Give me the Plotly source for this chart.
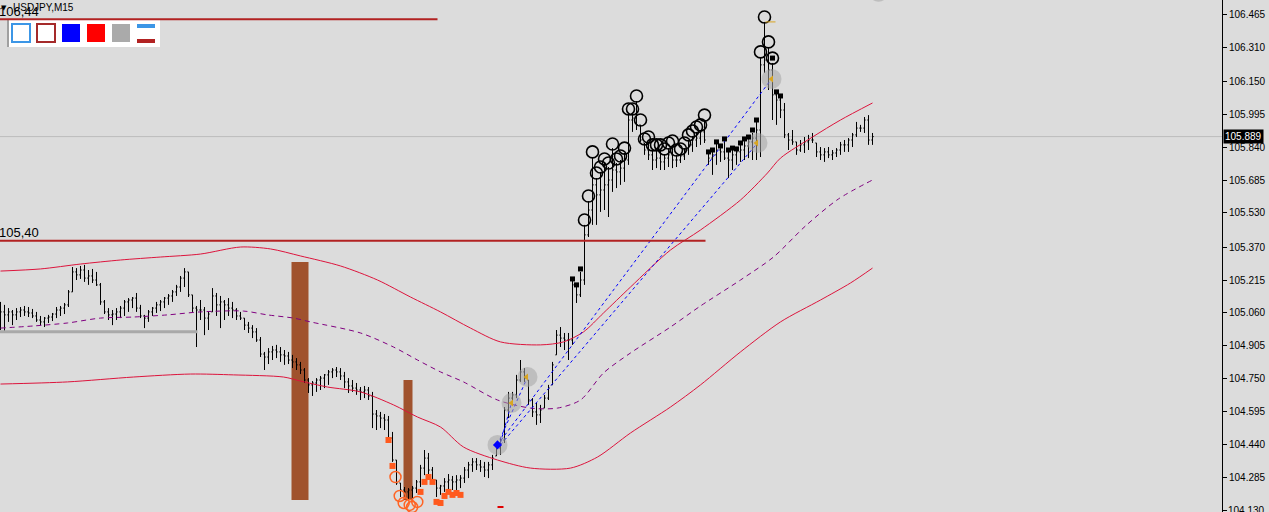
import plotly.graph_objects as go

# ---------------- data (USDJPY M15 bars) ----------------
bar_index = list(range(219))

bar_open = [105.036,105.065,105.051,105.065,105.051,105.065,105.074,105.065,105.060,105.046,
105.027,105.018,105.036,105.041,105.055,105.074,105.083,105.098,105.159,105.253,
105.239,105.262,105.224,105.234,105.215,105.192,105.112,105.065,105.051,105.055,
105.065,105.083,105.112,105.121,105.130,105.083,105.046,105.036,105.065,105.083,
105.098,105.112,105.130,105.140,105.159,105.182,105.224,105.253,105.145,105.083,
105.074,105.074,105.036,105.065,105.140,105.098,105.112,105.098,105.083,105.074,
105.046,105.036,105.003,104.989,104.971,104.933,104.867,104.853,104.877,104.886,
104.877,104.863,104.858,104.839,104.830,104.816,104.792,104.745,104.722,104.731,
104.745,104.754,104.769,104.783,104.792,104.783,104.764,104.736,104.717,104.707,
104.698,104.689,104.698,104.670,104.585,104.576,104.566,104.557,104.472,104.369,
104.261,104.228,104.219,104.228,104.237,104.266,104.331,104.378,104.322,104.275,
104.237,104.247,104.266,104.275,104.266,104.275,104.284,104.322,104.346,104.360,
104.346,104.336,104.322,104.346,104.388,104.425,104.463,104.604,104.660,104.675,
104.745,104.783,104.745,104.651,104.595,104.581,104.613,104.660,104.722,104.863,
104.956,104.942,104.933,104.933,105.192,105.145,105.215,105.427,105.544,105.662,
105.615,105.638,105.662,105.685,105.732,105.723,105.741,105.779,105.967,105.976,
105.944,105.859,105.826,105.803,105.779,105.788,105.770,105.788,105.803,105.779,
105.779,105.798,105.826,105.850,105.873,105.882,105.911,105.812,105.788,105.803,
105.826,105.817,105.788,105.779,105.803,105.817,105.826,105.845,105.864,105.882,
105.920,106.226,106.249,106.202,106.085,106.061,106.014,105.897,105.873,105.864,
105.826,105.850,105.864,105.873,105.859,105.817,105.803,105.817,105.803,105.812,
105.826,105.850,105.850,105.873,105.897,105.929,105.929,105.967,105.873]

bar_high = [105.112,105.098,105.083,105.074,105.083,105.088,105.093,105.088,105.079,105.065,
105.046,105.041,105.051,105.060,105.088,105.093,105.107,105.168,105.276,105.271,
105.281,105.286,105.262,105.267,105.253,105.201,105.121,105.083,105.074,105.083,
105.093,105.121,105.130,105.135,105.154,105.098,105.051,105.074,105.088,105.112,
105.121,105.135,105.149,105.168,105.192,105.234,105.271,105.253,105.145,105.093,
105.121,105.088,105.065,105.177,105.154,105.140,105.121,105.130,105.112,105.083,
105.065,105.036,105.018,105.003,104.989,104.947,104.877,104.895,104.905,104.910,
104.900,104.886,104.877,104.863,104.848,104.830,104.801,104.754,104.740,104.754,
104.764,104.773,104.792,104.801,104.806,104.801,104.783,104.754,104.745,104.731,
104.712,104.717,104.712,104.689,104.604,104.595,104.585,104.576,104.501,104.369,
104.261,104.242,104.237,104.247,104.275,104.346,104.416,104.402,104.336,104.275,
104.252,104.284,104.303,104.294,104.298,104.298,104.336,104.360,104.378,104.378,
104.369,104.360,104.360,104.393,104.435,104.472,104.618,104.689,104.689,104.769,
104.839,104.801,104.745,104.660,104.637,104.628,104.675,104.722,104.830,104.980,
104.994,104.966,104.966,105.224,105.192,105.253,105.474,105.586,105.793,105.694,
105.723,105.765,105.746,105.835,105.765,105.779,105.812,105.995,105.995,106.056,
105.944,105.859,105.864,105.826,105.826,105.826,105.807,105.835,105.845,105.803,
105.807,105.835,105.873,105.892,105.911,105.920,105.967,105.812,105.826,105.859,
105.835,105.873,105.817,105.835,105.826,105.850,105.868,105.882,105.906,105.958,
106.263,106.428,106.310,106.235,106.099,106.075,106.047,105.906,105.920,105.864,
105.873,105.887,105.897,105.906,105.859,105.840,105.835,105.840,105.826,105.835,
105.864,105.873,105.882,105.906,105.958,105.944,105.981,105.990,105.906]

bar_low = [104.980,104.971,105.018,105.003,105.027,105.041,105.046,105.041,105.036,105.018,
105.003,104.994,105.013,105.022,105.036,105.046,105.055,105.088,105.159,105.215,
105.220,105.206,105.192,105.201,105.187,105.098,105.055,105.027,105.003,105.027,
105.036,105.046,105.065,105.083,105.065,105.036,104.989,105.018,105.046,105.060,
105.069,105.083,105.098,105.112,105.140,105.159,105.182,105.135,105.065,104.900,
105.027,104.956,104.980,105.065,105.046,104.989,105.027,105.046,105.036,105.027,
105.027,104.980,104.966,104.942,104.924,104.853,104.792,104.820,104.839,104.848,
104.830,104.816,104.820,104.801,104.792,104.773,104.731,104.684,104.670,104.689,
104.698,104.707,104.722,104.754,104.759,104.745,104.707,104.684,104.689,104.675,
104.651,104.660,104.651,104.519,104.510,104.519,104.510,104.454,104.360,104.252,
104.195,104.181,104.181,104.190,104.214,104.242,104.298,104.289,104.261,104.195,
104.205,104.219,104.228,104.228,104.228,104.237,104.261,104.284,104.313,104.322,
104.313,104.289,104.284,104.322,104.388,104.393,104.449,104.566,104.623,104.660,
104.736,104.736,104.628,104.571,104.534,104.543,104.613,104.651,104.722,104.863,
104.900,104.886,104.839,104.910,105.107,105.135,105.192,105.417,105.474,105.474,
105.535,105.544,105.511,105.629,105.647,105.662,105.676,105.756,105.911,105.920,
105.864,105.803,105.779,105.732,105.741,105.732,105.732,105.746,105.741,105.746,
105.765,105.779,105.803,105.817,105.840,105.850,105.859,105.756,105.709,105.756,
105.770,105.779,105.694,105.732,105.756,105.770,105.779,105.788,105.779,105.779,
105.793,106.188,106.108,105.967,105.944,105.976,105.882,105.826,105.850,105.803,
105.817,105.812,105.826,105.859,105.793,105.779,105.770,105.788,105.779,105.793,
105.803,105.817,105.817,105.840,105.887,105.911,105.906,105.850,105.850]

bar_close = [105.065,105.051,105.065,105.051,105.065,105.074,105.065,105.060,105.046,105.027,
105.018,105.036,105.041,105.055,105.074,105.083,105.098,105.159,105.253,105.239,
105.262,105.224,105.234,105.215,105.192,105.112,105.065,105.051,105.055,105.065,
105.083,105.112,105.121,105.130,105.083,105.046,105.036,105.065,105.083,105.098,
105.112,105.130,105.140,105.159,105.182,105.224,105.253,105.145,105.083,105.074,
105.074,105.036,105.055,105.140,105.098,105.112,105.098,105.083,105.074,105.046,
105.036,105.003,104.989,104.971,104.933,104.867,104.853,104.877,104.886,104.877,
104.863,104.858,104.839,104.830,104.816,104.792,104.745,104.722,104.731,104.745,
104.754,104.769,104.783,104.792,104.783,104.764,104.736,104.717,104.707,104.698,
104.689,104.698,104.670,104.585,104.576,104.566,104.557,104.472,104.369,104.261,
104.228,104.219,104.228,104.237,104.266,104.331,104.378,104.322,104.275,104.237,
104.247,104.266,104.275,104.266,104.275,104.284,104.322,104.346,104.360,104.346,
104.336,104.322,104.346,104.378,104.425,104.463,104.604,104.660,104.675,104.745,
104.783,104.754,104.651,104.595,104.581,104.604,104.660,104.707,104.816,104.956,
104.942,104.933,104.933,105.192,105.145,105.215,105.427,105.544,105.662,105.615,
105.638,105.662,105.685,105.732,105.723,105.741,105.779,105.967,105.976,105.944,
105.873,105.826,105.803,105.779,105.788,105.770,105.788,105.803,105.779,105.779,
105.798,105.826,105.850,105.873,105.882,105.911,105.873,105.788,105.803,105.826,
105.817,105.788,105.779,105.803,105.817,105.826,105.845,105.864,105.882,105.920,
106.226,106.249,106.202,106.085,106.061,106.014,105.897,105.873,105.864,105.826,
105.850,105.864,105.873,105.873,105.817,105.803,105.817,105.803,105.812,105.826,
105.850,105.850,105.873,105.897,105.929,105.929,105.967,105.873,105.889]

# envelope / band indicator
upper_x = [0,10,20,30,40,50,60,67.5,75,85,94.25,102.5,110,117.5,125,135,140.75,145.75,150.75,157.5,167.5,175,185,191.75,195,203,210,218]
upper_y = [105.257,105.267,105.290,105.309,105.323,105.337,105.370,105.361,105.328,105.281,105.215,105.135,105.065,104.989,104.924,104.910,104.924,104.971,105.060,105.182,105.356,105.450,105.591,105.718,105.788,105.887,105.967,106.047]
middle_x = [0,8.25,16.75,25,33.25,41.75,50,60.75,66.75,73.25,77.5,90,98.25,104.25,110,115.75,124.25,132.5,139.25,145,150.75,157.5,167.5,175,185,193.25,201.25,209.5,218]
middle_y = [104.989,104.999,105.013,105.036,105.041,105.051,105.065,105.069,105.051,105.036,105.018,104.966,104.900,104.839,104.783,104.736,104.651,104.613,104.613,104.651,104.778,104.872,104.994,105.093,105.215,105.323,105.469,105.596,105.685]
lower_x = [0,16.75,33.25,47.5,58.25,70.75,75,81.75,90,98.25,104.25,110,115.75,124.25,132.5,142.5,149.25,157.5,167.5,175,185,195,205,212.5,218]
lower_y = [104.726,104.736,104.759,104.773,104.769,104.759,104.740,104.712,104.689,104.628,104.571,104.524,104.430,104.369,104.331,104.331,104.383,104.496,104.618,104.722,104.877,105.018,105.121,105.201,105.271]

# signal markers
circle_x = list(range(146, 177)) + [190, 191, 192, 193]
circle_y = [105.497,105.610,105.817,105.718,105.746,105.784,105.765,105.854,105.784,105.798,105.835,
            106.019,106.019,106.080,105.967,105.878,105.887,105.850,105.850,105.850,105.831,105.859,
            105.868,105.826,105.831,105.859,105.897,105.915,105.934,105.944,105.990,
            106.287,106.451,106.334,106.258]
square_x = [143, 144, 145] + list(range(177, 190)) + [193, 194, 195]
square_y = [105.220,105.192,105.267,
            105.817,105.826,105.864,105.845,105.878,105.826,105.835,105.831,105.859,105.878,105.887,105.920,105.967,
            106.258,106.099,106.080]
osq_x = [97, 98, 105, 106, 107, 108, 109, 110, 111, 112, 113, 114, 115]
osq_y = [104.463,104.341,104.219,104.266,104.289,104.266,104.172,104.167,104.200,104.219,104.205,104.214,104.205]
ocirc_x = [98.75, 99.8, 100.8, 102.3, 102.9, 104.2]
ocirc_y = [104.289,104.200,104.167,104.158,104.148,104.172]
gray_x = [124.25, 127.75, 131.75, 189.25, 192.75, 219.5]
gray_y = [104.440, 104.637, 104.759, 105.859, 106.160, 106.570]
gold_x = [127.75, 131.5, 192.75, 189.0]
gold_y = [104.637, 104.759, 106.160, 105.859]
arrow_x = [124.25]
arrow_y = [104.440]

# trend lines (start index, start price, end index, end price)
trend_lines = [(124.25, 104.440, 192.75, 106.160),
               (125.0, 104.440, 189.25, 105.859),
               (124.25, 104.440, 131.75, 104.759),
               (125.0, 104.450, 127.75, 104.637)]

level_hi = 106.44
level_lo = 105.40
support_grey = 104.972
last_price = 105.889

tick_vals = [106.465,106.310,106.150,105.995,105.840,105.685,105.530,105.370,105.215,105.060,
             104.905,104.750,104.595,104.440,104.285,104.130]

# ---------------- figure ----------------
PW, PH = 1222, 512          # plot-area size in pixels
def pxx(x): return x / PW
def pxy(y): return 1 - y / PH

fig = go.Figure()

fig.add_trace(go.Ohlc(x=bar_index, open=bar_open, high=bar_high, low=bar_low, close=bar_close,
                      increasing=dict(line=dict(color='black', width=1)),
                      decreasing=dict(line=dict(color='black', width=1)),
                      tickwidth=0.3, hoverinfo='skip', showlegend=False))

fig.add_trace(go.Scatter(x=upper_x, y=upper_y, mode='lines', line=dict(color='#dc143c', width=1, shape='spline', smoothing=0.8), hoverinfo='skip'))
fig.add_trace(go.Scatter(x=lower_x, y=lower_y, mode='lines', line=dict(color='#dc143c', width=1, shape='spline', smoothing=0.8), hoverinfo='skip'))
fig.add_trace(go.Scatter(x=middle_x, y=middle_y, mode='lines', line=dict(color='#800080', width=1, dash='5px,4px', shape='spline', smoothing=0.8), hoverinfo='skip'))

for (x0, y0, x1, y1) in trend_lines:
    fig.add_trace(go.Scatter(x=[x0, x1], y=[y0, y1], mode='lines',
                             line=dict(color='#0000ff', width=1, dash='3px,3px'), hoverinfo='skip'))

fig.add_trace(go.Scatter(x=gray_x, y=gray_y, mode='markers', cliponaxis=True,
                         marker=dict(symbol='circle', size=20, color='rgba(165,165,165,0.55)'), hoverinfo='skip'))
fig.add_trace(go.Scatter(x=circle_x, y=circle_y, mode='markers',
                         marker=dict(symbol='circle-open', size=12, color='black', line=dict(width=1.6)), hoverinfo='skip'))
fig.add_trace(go.Scatter(x=square_x, y=square_y, mode='markers',
                         marker=dict(symbol='square', size=5, color='black'), hoverinfo='skip'))
fig.add_trace(go.Scatter(x=osq_x, y=osq_y, mode='markers',
                         marker=dict(symbol='square', size=6, color='#ff5a1e'), hoverinfo='skip'))
fig.add_trace(go.Scatter(x=ocirc_x, y=ocirc_y, mode='markers',
                         marker=dict(symbol='circle-open', size=11, color='#ff6424', line=dict(width=1.5)), hoverinfo='skip'))
fig.add_trace(go.Scatter(x=gold_x, y=gold_y, mode='markers',
                         marker=dict(symbol='triangle-left', size=6, color='#d9a521'), hoverinfo='skip'))
fig.add_trace(go.Scatter(x=arrow_x, y=arrow_y, mode='markers',
                         marker=dict(symbol='diamond', size=7, color='#0000ff'), hoverinfo='skip'))

shapes = []
# brown rectangles
shapes.append(dict(type='rect', xref='x', yref='y', x0=72.75, x1=77.0, y0=104.181, y1=105.300,
                   fillcolor='#a0522d', line=dict(width=0), layer='below'))
shapes.append(dict(type='rect', xref='x', yref='y', x0=100.75, x1=103.0, y0=104.181, y1=104.745,
                   fillcolor='#a0522d', line=dict(width=0), layer='below'))
# current price line
shapes.append(dict(type='line', xref='paper', yref='y', x0=0, x1=1, y0=last_price, y1=last_price,
                   line=dict(color='#bcbcbc', width=1), layer='below'))
# grey support segment
shapes.append(dict(type='line', xref='x', yref='y', x0=-1, x1=49.25, y0=support_grey, y1=support_grey,
                   line=dict(color='#a9a9a9', width=3)))
# small red dash at the bottom / gold tick at the top
shapes.append(dict(type='line', xref='x', yref='y', x0=124.25, x1=125.75, y0=104.148, y1=104.148,
                   line=dict(color='#e00000', width=2)))
shapes.append(dict(type='line', xref='x', yref='y', x0=191.25, x1=193.75, y0=106.428, y1=106.428,
                   line=dict(color='#d9a521', width=1)))

# toolbar box (pixel positions)
def prect(x0, y0, x1, y1, **kw):
    d = dict(type='rect', xref='paper', yref='paper', x0=pxx(x0), x1=pxx(x1), y0=pxy(y1), y1=pxy(y0))
    d.update(kw)
    return d
shapes.append(prect(7, 19, 160, 47, fillcolor='white', line=dict(width=0)))
shapes.append(prect(7, 20, 9, 47, fillcolor='#a0a0a0', line=dict(width=0)))
shapes.append(prect(12, 24, 30, 42, fillcolor='rgba(0,0,0,0)', line=dict(color='#3c96e6', width=2)))
shapes.append(prect(37, 24, 55, 42, fillcolor='rgba(0,0,0,0)', line=dict(color='#a52a2a', width=2)))
shapes.append(prect(62, 24, 80, 42, fillcolor='#0000ff', line=dict(width=0)))
shapes.append(prect(87, 24, 105, 42, fillcolor='#ff0000', line=dict(width=0)))
shapes.append(prect(112, 24, 130, 42, fillcolor='#aaaaaa', line=dict(width=0)))
shapes.append(prect(137, 24, 155, 28, fillcolor='#3c96e6', line=dict(width=0)))
shapes.append(prect(137, 39, 155, 43, fillcolor='#b22222', line=dict(width=0)))

# horizontal red levels
shapes.append(dict(type='line', xref='x', yref='y', x0=-1, x1=109.25, y0=level_hi, y1=level_hi,
                   line=dict(color='#b22222', width=2)))
shapes.append(dict(type='line', xref='x', yref='y', x0=-1, x1=176.25, y0=level_lo, y1=level_lo,
                   line=dict(color='#b22222', width=2)))

annotations = [
    dict(xref='paper', yref='paper', x=pxx(11), y=pxy(0), xanchor='left', yanchor='top', showarrow=False,
         text='USDJPY,M15', font=dict(family='Liberation Sans', size=10, color='black')),
    dict(xref='paper', yref='paper', x=pxx(-1), y=pxy(2), xanchor='left', yanchor='top', showarrow=False,
         text='▼', font=dict(family='DejaVu Sans', size=7, color='black')),
    dict(xref='paper', yref='paper', x=pxx(-3), y=pxy(2), xanchor='left', yanchor='top', showarrow=False,
         text='106,44', font=dict(family='Liberation Sans', size=13, color='black')),
    dict(xref='paper', yref='paper', x=pxx(-3), y=pxy(223), xanchor='left', yanchor='top', showarrow=False,
         text='105,40', font=dict(family='Liberation Sans', size=13, color='black')),
    dict(xref='paper', yref='y', x=1, y=last_price, xanchor='left', yanchor='middle', xshift=1, showarrow=False,
         text='105.889', bgcolor='black', borderpad=1,
         font=dict(family='Liberation Sans', size=10, color='white')),
    # bottom axis label, half cut by the window edge
    dict(xref='paper', yref='y', x=1, y=tick_vals[-1], xanchor='left', yanchor='middle', xshift=4, showarrow=False,
         text=f'{tick_vals[-1]:.3f}', font=dict(family='Liberation Sans', size=10, color='black')),
]

fig.update_layout(
    width=1269, height=512,
    margin=dict(l=0, r=47, t=0, b=0),
    paper_bgcolor='#dcdcdc', plot_bgcolor='#dcdcdc',
    showlegend=False,
    shapes=shapes, annotations=annotations,
    xaxis=dict(range=[-0.125, 305.375], visible=False, rangeslider=dict(visible=False), fixedrange=True),
    yaxis=dict(range=[104.1246, 106.531], side='right', showgrid=False, zeroline=False,
               showline=True, linecolor='black', linewidth=1, mirror=False,
               ticks='outside', ticklen=4, tickcolor='black', tickwidth=1,
               tickvals=tick_vals, ticktext=[f'{v:.3f}' for v in tick_vals],
               tickfont=dict(family='Liberation Sans', size=10, color='black'), automargin=False),
)

fig.write_html('out.html', config={'displayModeBar': False},
               post_script="document.body.style.margin='0px';document.body.style.padding='0px';")
